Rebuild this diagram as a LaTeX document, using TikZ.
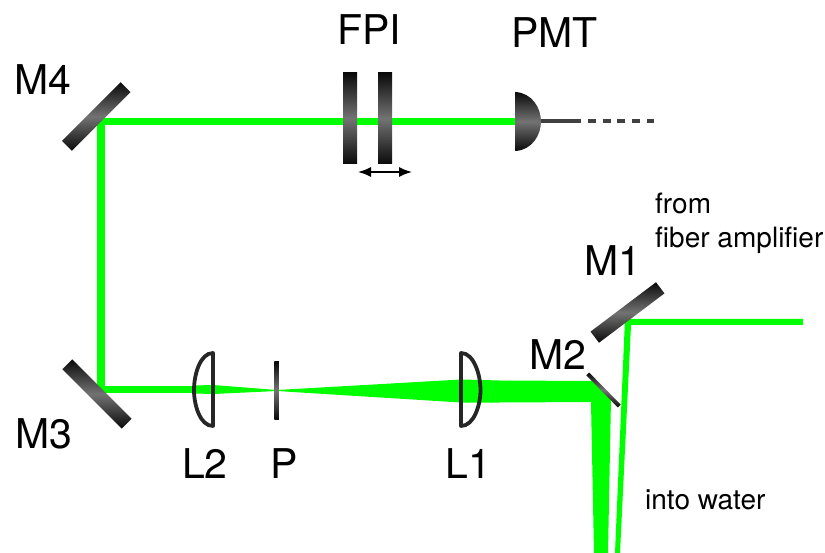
\documentclass[tikz,border=0pt]{standalone}
\usepackage{fontspec}
\usetikzlibrary{arrows.meta}
\setmainfont{TeX Gyre Heros}
\definecolor{beam}{RGB}{0,255,0}
\definecolor{mgray}{RGB}{115,115,115}
\definecolor{mdark}{RGB}{10,10,10}
\tikzset{
  x=1pt,y=-1pt,
  beamfill/.style={fill=beam,draw=none},
  beamline/.style={draw=beam,line width=7.5pt},
  plate/.style={rectangle,inner sep=0pt,draw=none,top color=mdark,bottom color=mdark,middle color=mgray},
  mirrorbox/.style={plate,minimum width=#1,minimum height=14pt},
  bigl/.style={font=\fontsize{41}{44}\selectfont,inner sep=0pt},
  smalll/.style={font=\fontsize{28}{32}\selectfont,inner sep=0pt,align=left},
  lens/.style={draw=black!85,line width=3.8pt,line join=round},
}
\begin{document}
\begin{tikzpicture}
\useasboundingbox (0,0) rectangle (825,553);
% beams
\coordinate (a) at (101,121.5);
\coordinate (b) at (101,389.5);
\coordinate (c) at (516,121.5);
\draw[beamline,line cap=butt] (c) -- (a) -- (b) -- (200,389.5);
\fill[beamfill] (195,385.5) -- (213,385) -- (277,390) -- (461,379.5) -- (500,380.5) -- (592,381) -- (611,398) -- (608,553) -- (594,553) -- (591,402) -- (500,402.5) -- (461,402.5) -- (277,391) -- (213,394) -- (195,393.5) -- cycle;
\fill[beamfill] (803,319) -- (625,319) -- (615,553) -- (620,553) -- (631,325) -- (803,325) -- cycle;
% mirrors
\node[mirrorbox=82pt,rotate=37] (M1) at (627.5,312.5) {};
\node[plate,minimum width=45pt,minimum height=4pt,rotate=-45.5] (M2) at (603.5,390) {};
\node[mirrorbox=84pt,rotate=-45] (M3) at (97,394) {};
\node[mirrorbox=83pt,rotate=45] (M4) at (96.3,116.5) {};
% FPI
\node[plate,minimum width=14pt,minimum height=91pt] (F1) at (350,118.5) {};
\node[plate,minimum width=14pt,minimum height=91pt] (F2) at (385,118.5) {};
\coordinate (arL) at (358,172);
\coordinate (arR) at (412,172);
\draw[line width=1.5pt,<->,>={Latex[length=13pt,width=10pt]}] (arL) -- (arR);
% PMT
\path[top color=mdark,bottom color=mdark,middle color=mgray] (515.5,92) .. controls (532,93) and (541,108) .. (541,121.5) .. controls (541,135) and (532,150) .. (515.5,151) -- cycle;
\coordinate (w0) at (541,121.5);
\coordinate (w1) at (573,121.5);
\coordinate (w2) at (654,121.5);
\draw[line width=4pt,black!75] (w0) -- (w1);
\draw[line width=4pt,black!75,dash pattern=on 8pt off 6.8pt] (w1) -- (w2);
% lenses
\draw[lens] (213,353) .. controls (200,353) and (194,375) .. (194,390) .. controls (194,405) and (200,426) .. (213,426) -- cycle;
\draw[lens] (461,353) .. controls (474,353) and (480.5,375) .. (480.5,390) .. controls (480.5,405) and (474,426) .. (461,426) -- cycle;
\node[plate,minimum width=4.5pt,minimum height=57pt] (P0) at (276.5,390.5) {};
% labels
\node[bigl,anchor=base west] (lM4) at (14,95) {M4};
\node[bigl,anchor=base west] (lFPI) at (337,45) {FPI};
\node[bigl,anchor=base west] (lPMT) at (511,48) {PMT};
\node[bigl,anchor=base west] (lM1) at (584,276) {M1};
\node[bigl,anchor=base west] (lM2) at (529,370) {M2};
\node[bigl,anchor=base west] (lM3) at (15,448) {M3};
\node[bigl,anchor=base west] (lL2) at (182,478) {L2};
\node[bigl,anchor=base west] (lP) at (270,478) {P};
\node[bigl,anchor=base west] (lL1) at (445,478) {L1};
\node[smalll,anchor=base west] (lf) at (655,214) {from};
\node[smalll,anchor=base west] (lfa) at (655,248) {fiber amplifier};
\node[smalll,anchor=base west] (lw) at (645,509) {into water};
\end{tikzpicture}
\end{document}
